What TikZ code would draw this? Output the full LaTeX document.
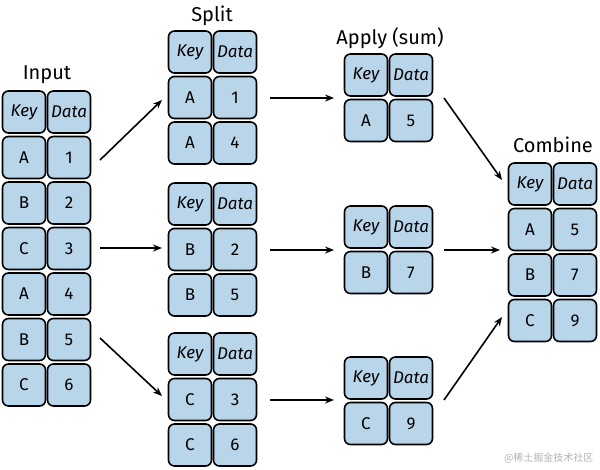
\documentclass[tikz,border=0pt]{standalone}
\usepackage{fontspec}
\setmainfont{Fira Sans}
\newfontfamily\cjk{Noto Sans CJK SC}
\usetikzlibrary{arrows.meta}
\definecolor{cellblue}{HTML}{B9D5EA}
\tikzset{
 cell/.style={draw=black,line width=1.6pt,fill=cellblue,rounded corners=6pt,minimum width=43pt,minimum height=42pt,inner sep=0pt,font=\fontsize{17}{17}\selectfont},
 hcell/.style={cell,font=\fontsize{17}{17}\selectfont\itshape},
 title/.style={font=\fontsize{20}{20}\selectfont},
 arr/.style={-{Stealth[length=9pt,width=7pt]},line width=1.6pt}
}
\newcommand{\mytab}[5]{% name, x, y, list of rows (key/data), 
 \node[hcell] (#1k0) at (#2,#3) {Key};
 \node[hcell] (#1d0) at (#2+45,#3) {Data};
 \foreach \k/\d [count=\i] in {#4} {
  \node[cell] (#1k\i) at (#2,#3+45.5*\i) {\k};
  \node[cell] (#1d\i) at (#2+45,#3+45.5*\i) {\d};
 }
}
\begin{document}
\begin{tikzpicture}[x=1pt,y=-1pt]
\useasboundingbox (0,0) rectangle (600,469);
\mytab{in}{24}{112}{A/1,B/2,C/3,A/4,B/5,C/6}{}
\mytab{sa}{190}{52}{A/1,A/4}{}
\mytab{sb}{190}{204}{B/2,B/5}{}
\mytab{sc}{190}{354}{C/3,C/6}{}
\mytab{aa}{366}{75}{A/5}{}
\mytab{ab}{366}{227}{B/7}{}
\mytab{ac}{366}{378}{C/9}{}
\mytab{co}{530}{184}{A/5,B/7,C/9}{}
\node[title] (t1) at (47,75) {Input};
\node[title] (t2) at (212,16) {Split};
\node[title] (t3) at (390,38) {Apply (sum)};
\node[title] (t4) at (553,145) {Combine};
\coordinate (p1) at (100,160); \coordinate (q1) at (162,100);
\coordinate (p2) at (100,248); \coordinate (q2) at (162,248);
\coordinate (p3) at (100,338); \coordinate (q3) at (162,396);
\draw[arr] (p1) -- (q1);
\draw[arr] (p2) -- (q2);
\draw[arr] (p3) -- (q3);
\coordinate (r1) at (270,98); \coordinate (s1) at (334,98);
\coordinate (r2) at (270,250); \coordinate (s2) at (334,250);
\coordinate (r3) at (270,400); \coordinate (s3) at (334,400);
\draw[arr] (r1) -- (s1);
\draw[arr] (r2) -- (s2);
\draw[arr] (r3) -- (s3);
\coordinate (u1) at (444,98); \coordinate (v1) at (502,180);
\coordinate (u2) at (444,250); \coordinate (v2) at (500,250);
\coordinate (u3) at (444,400); \coordinate (v3) at (502,317);
\draw[arr] (u1) -- (v1);
\draw[arr] (u2) -- (v2);
\draw[arr] (u3) -- (v3);
\node[font=\cjk\fontsize{10}{10}\selectfont,text=gray!60,anchor=east] (wm) at (597,458) {@稀土掘金技术社区};
\end{tikzpicture}
\end{document}
